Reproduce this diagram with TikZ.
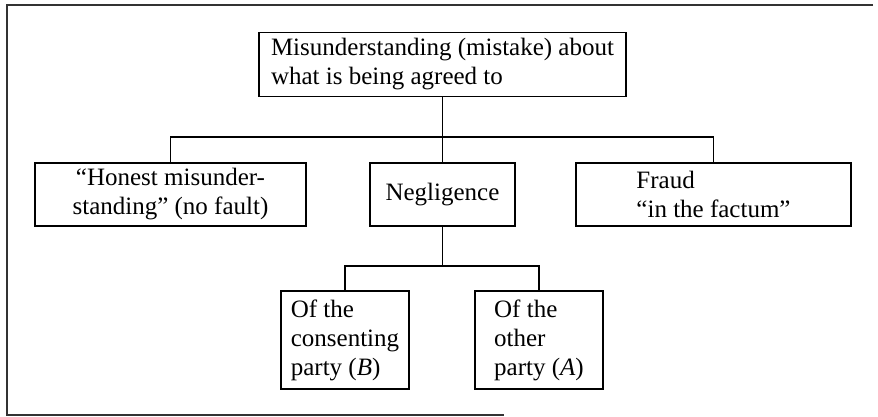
\documentclass[tikz,border=0pt]{standalone}
\usepackage{fontspec}
\setmainfont{Liberation Serif}
\begin{document}
\begin{tikzpicture}[x=1pt,y=-1pt,
  box/.style={draw,line width=1.3pt,rectangle,inner sep=0pt,font=\fontsize{25}{29}\selectfont},
  conn/.style={line width=1.3pt},
  frame/.style={line width=1.2pt,draw=black!80}]
\useasboundingbox (0,0) rectangle (878,417);
% frame
\draw[frame] (873,5) -- (7,5) -- (7,415) -- (504,415);
% nodes
\node[box,minimum width=367pt,minimum height=64pt,align=left] (top) at (442.5,64.5)
  {Misunderstanding (mistake) about\\what is being agreed to};
\node[box,minimum width=271pt,minimum height=63pt,align=center] (honest) at (170.5,194.5)
  {“Honest misunder-\\standing” (no fault)};
\node[box,minimum width=145pt,minimum height=63pt] (neg) at (442.5,194.5) {Negligence};
\node[box,minimum width=275pt,minimum height=63pt,align=left] (fraud) at (713.5,194.5)
  {Fraud\\“in the factum”};
\node[box,minimum width=128pt,minimum height=98pt,align=left] (consB) at (345,340)
  {Of the\\consenting\\party (\textit{B})};
\node[box,minimum width=128pt,minimum height=98pt,align=left] (otherA) at (539,340)
  {Of the\\other\\party (\textit{A})};
% connectors
\coordinate (bus1) at (442.5,137);
\coordinate (bus2) at (442.5,266);
\draw[conn] (top.south) -- (bus1);
\draw[conn] (honest.north) |- (bus1) -| (fraud.north);
\draw[conn] (bus1) -- (neg.north);
\draw[conn] (neg.south) -- (bus2);
\draw[conn] (consB.north) |- (bus2) -| (otherA.north);
\end{tikzpicture}
\end{document}
